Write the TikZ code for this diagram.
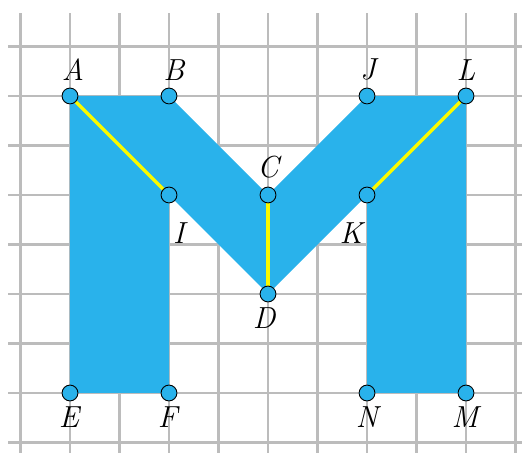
\documentclass[tikz,border=0pt]{standalone}
\usepackage{xcolor}
\usetikzlibrary{calc}
\definecolor{mblue}{RGB}{41,178,235}
\definecolor{gridgray}{RGB}{188,188,188}
\definecolor{myellow}{RGB}{250,250,0}
\begin{document}
\begin{tikzpicture}[
  pt/.style={circle,draw=black,line width=0.5pt,fill=mblue,minimum size=0.32cm,inner sep=0pt},
  lab/.style={font=\fontsize{17.5}{20}\selectfont\itshape,anchor=base,inner sep=0pt},
  gridline/.style={draw=gridgray,line width=1.2pt},
  seg/.style={draw=myellow,line width=2pt}
]
\useasboundingbox (-1.414,-1.192) rectangle (9.131,7.939);
% grid
\foreach \x in {-1,...,9} \draw[gridline] (\x,-1.3) -- (\x,7.67);
\foreach \y in {-1,...,7} \draw[gridline] (-1.25,\y) -- (9.3,\y);
% coordinates
\coordinate (pA) at (0,6);
\coordinate (pB) at (2,6);
\coordinate (pJ) at (6,6);
\coordinate (pL) at (8,6);
\coordinate (pI) at (2,4);
\coordinate (pC) at (4,4);
\coordinate (pK) at (6,4);
\coordinate (pD) at (4,2);
\coordinate (pE) at (0,0);
\coordinate (pF) at (2,0);
\coordinate (pN) at (6,0);
\coordinate (pM) at (8,0);
% shape
\fill[mblue] (pA) -- (pB) -- (pC) -- (pJ) -- (pL) -- (pM) -- (pN) -- (pK) -- (pD) -- (pI) -- (pF) -- (pE) -- cycle;
% yellow segments
\draw[seg] (pA) -- (pI);
\draw[seg] (pC) -- (pD);
\draw[seg] (pL) -- (pK);
% points
\foreach \p in {A,B,J,L,I,C,K,D,E,F,N,M} \node[pt] (\p) at (p\p) {};
% labels
\node[lab] (lA) at ($(pA)+(0.06,0.31)$) {A};
\node[lab] (lB) at ($(pB)+(0.1,0.31)$) {B};
\node[lab] (lJ) at ($(pJ)+(0.02,0.33)$) {J};
\node[lab] (lL) at ($(pL)+(0,0.31)$) {L};
\node[lab] (lC) at ($(pC)+(0,0.35)$) {C};
\node[lab] (lI) at ($(pI)+(0.2,-0.97)$) {I};
\node[lab] (lK) at ($(pK)+(-0.32,-0.97)$) {K};
\node[lab] (lD) at ($(pD)+(-0.08,-0.69)$) {D};
\node[lab] (lE) at ($(pE)+(-0.02,-0.69)$) {E};
\node[lab] (lF) at ($(pF)+(-0.03,-0.69)$) {F};
\node[lab] (lN) at ($(pN)+(0,-0.69)$) {N};
\node[lab] (lM) at ($(pM)+(-0.02,-0.69)$) {M};
\end{tikzpicture}
\end{document}
